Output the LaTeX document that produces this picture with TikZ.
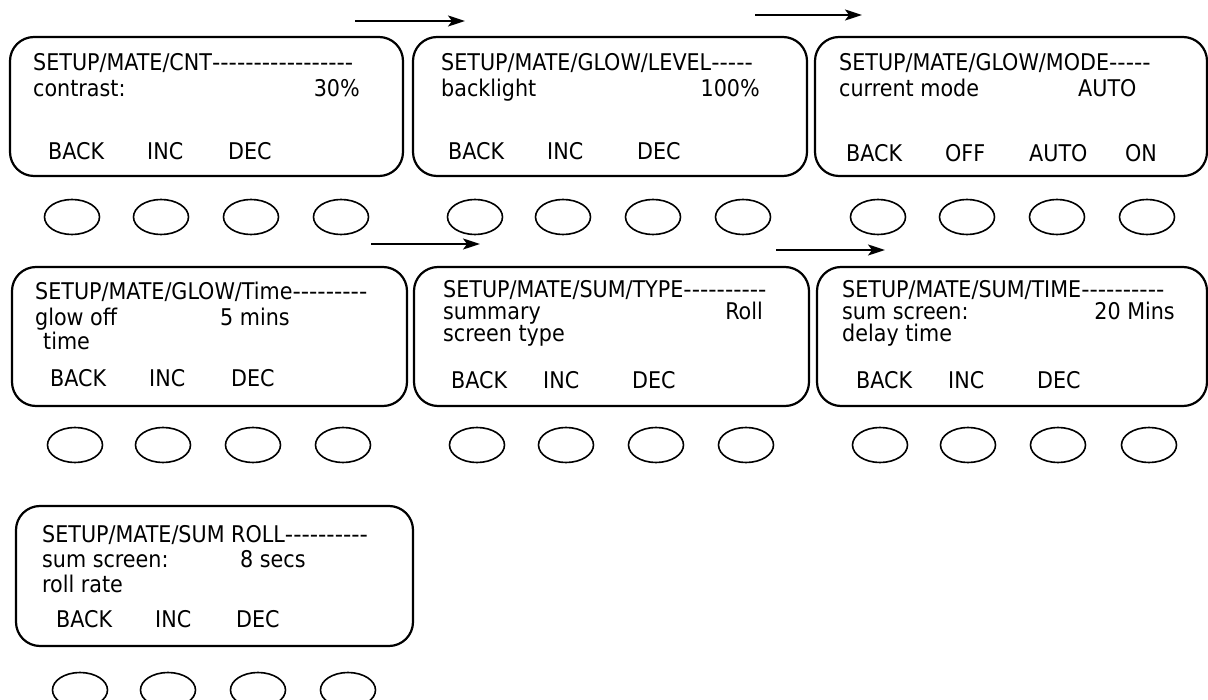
\documentclass[tikz,border=0pt]{standalone}
\usepackage{fontspec}
\newfontfamily\lcdfont{DejaVu Sans Condensed}
\newfontfamily\lcdwide{DejaVu Sans}
\newcommand\dsh[1]{{\lcdwide #1}}
\usetikzlibrary{arrows.meta,shapes.geometric}
\tikzset{
  screen/.style={draw, line width=2.2pt, rounded corners=24pt},
  btn/.style={draw, line width=1.6pt, ellipse, minimum width=55pt, minimum height=35pt, inner sep=0pt},
  txt/.style={inner sep=0pt, anchor=base west, font=\lcdfont\fontsize{23}{27}\selectfont},
  rtxt/.style={txt, anchor=base east},
  flow/.style={line width=2pt, -{Stealth[length=17pt,width=11pt,inset=4pt]}}
}
\begin{document}
\begin{tikzpicture}[x=1pt,y=-1pt]
\useasboundingbox (0,0) rectangle (1208,700);
% ---------- screens ----------
\draw[screen] (10,37) rectangle (403,176) coordinate (s1);
\draw[screen] (413,37) rectangle (807,176) coordinate (s2);
\draw[screen] (815,37) rectangle (1207,176) coordinate (s3);
\draw[screen] (12,267) rectangle (407,406) coordinate (s4);
\draw[screen] (414,267) rectangle (809,406) coordinate (s5);
\draw[screen] (817,267) rectangle (1207,406) coordinate (s6);
\draw[screen] (16,506) rectangle (413,646) coordinate (s7);
% ---------- buttons ----------
\foreach \x [count=\i] in {72,161,251,341} \node[btn] (b1\i) at (\x,217) {};
\foreach \x [count=\i] in {475,563,653,743} \node[btn] (b2\i) at (\x,217) {};
\foreach \x [count=\i] in {878,967,1057,1147} \node[btn] (b3\i) at (\x,217) {};
\foreach \x [count=\i] in {75,163,253,343} \node[btn] (b4\i) at (\x,445) {};
\foreach \x [count=\i] in {477,566,656,746} \node[btn] (b5\i) at (\x,445) {};
\foreach \x [count=\i] in {880,968,1058,1149} \node[btn] (b6\i) at (\x,445) {};
\foreach \x [count=\i] in {80,168,258,348} \node[btn] (b7\i) at (\x,690) {};
% ---------- arrows ----------
\coordinate (a1s) at (355,21); \coordinate (a1e) at (465,21);
\coordinate (a2s) at (755,15); \coordinate (a2e) at (862,15);
\coordinate (a3s) at (371,244); \coordinate (a3e) at (480,244);
\coordinate (a4s) at (776,250); \coordinate (a4e) at (885,250);
\draw[flow] (a1s) -- (a1e);
\draw[flow] (a2s) -- (a2e);
\draw[flow] (a3s) -- (a3e);
\draw[flow] (a4s) -- (a4e);
% ---------- screen 1 ----------
\node[txt] (t1) at (33,71) {SETUP/MATE/CNT\dsh{-----------------}};
\node[txt] (l1) at (33,97) {contrast:};
\node[rtxt] (v1) at (360,97) {30\%};
\node[txt] (k11) at (48,160) {BACK};
\node[txt] (k12) at (147,160) {INC};
\node[txt] (k13) at (228,160) {DEC};
% ---------- screen 2 ----------
\node[txt] (t2) at (441,71) {SETUP/MATE/GLOW/LEVEL\dsh{-----}};
\node[txt] (l2) at (441,97) {backlight};
\node[rtxt] (v2) at (760,97) {100\%};
\node[txt] (k21) at (448,160) {BACK};
\node[txt] (k22) at (547,160) {INC};
\node[txt] (k23) at (637,160) {DEC};
% ---------- screen 3 ----------
\node[txt] (t3) at (839,71) {SETUP/MATE/GLOW/MODE\dsh{-----}};
\node[txt] (l3) at (839,97) {current mode};
\node[txt] (v3) at (1078,97) {AUTO};
\node[txt] (k31) at (846,162) {BACK};
\node[txt] (k32) at (945,162) {OFF};
\node[txt] (k33) at (1029,162) {AUTO};
\node[txt] (k34) at (1125,162) {ON};
% ---------- screen 4 ----------
\node[txt] (t4) at (35,300) {SETUP/MATE/GLOW/Time\dsh{---------}};
\node[txt] (l4) at (35,326) {glow off};
\node[txt] (l4b) at (43,350) {time};
\node[txt] (v4) at (220,326) {5 mins};
\node[txt] (k41) at (50,387) {BACK};
\node[txt] (k42) at (149,387) {INC};
\node[txt] (k43) at (231,387) {DEC};
% ---------- screen 5 ----------
\node[txt] (t5) at (443,298) {SETUP/MATE/SUM/TYPE\dsh{----------}};
\node[txt] (l5) at (443,320) {summary};
\node[txt] (l5b) at (443,342) {screen type};
\node[rtxt] (v5) at (763,320) {Roll};
\node[txt] (k51) at (451,389) {BACK};
\node[txt] (k52) at (543,389) {INC};
\node[txt] (k53) at (632,389) {DEC};
% ---------- screen 6 ----------
\node[txt] (t6) at (842,298) {SETUP/MATE/SUM/TIME\dsh{----------}};
\node[txt] (l6) at (842,320) {sum screen:};
\node[txt] (l6b) at (842,342) {delay time};
\node[rtxt] (v6) at (1175,320) {20 Mins};
\node[txt] (k61) at (856,389) {BACK};
\node[txt] (k62) at (948,389) {INC};
\node[txt] (k63) at (1037,389) {DEC};
% ---------- screen 7 ----------
\node[txt] (t7) at (42,542) {SETUP/MATE/SUM ROLL\dsh{----------}};
\node[txt] (l7) at (42,567) {sum screen:};
\node[txt] (l7b) at (42,592) {roll rate};
\node[txt] (v7) at (240,567) {8 secs};
\node[txt] (k71) at (56,627) {BACK};
\node[txt] (k72) at (155,627) {INC};
\node[txt] (k73) at (236,627) {DEC};
\end{tikzpicture}
\end{document}
